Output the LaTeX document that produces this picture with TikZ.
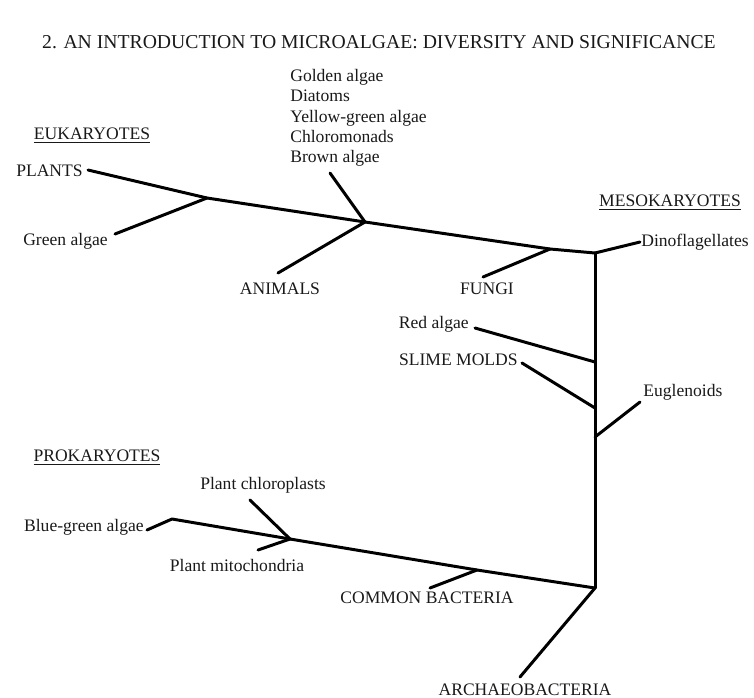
\documentclass[tikz,border=0pt]{standalone}
\usepackage{fontspec}
\setmainfont{Liberation Serif}
\usepackage{tikz}

\begin{document}
\begin{tikzpicture}[x=0.02cm, y=-0.02cm,
    branche/.style={line width=1.7pt, line cap=round, line join=round},
    lab/.style={inner sep=0pt, text=black!90, font=\fontsize{10}{11.6}\selectfont}]
	\useasboundingbox (0,0) rectangle (754,697);
	\node[lab, font=\fontsize{11.2}{13}\selectfont] (titre) at (379,42) {2. AN INTRODUCTION TO MICROALGAE: DIVERSITY AND SIGNIFICANCE};

	% eucaryotes : branche du haut
	\coordinate (pl) at (88,170);
	\coordinate (ja) at (207,198);
	\coordinate (ga) at (115,234);
	\coordinate (jb) at (365,222);
	\coordinate (an) at (278,273);
	\coordinate (br) at (330,173);
	\coordinate (jf) at (550,249);
	\coordinate (fu) at (483,277);
	\coordinate (top) at (595,253);
	\node[lab] (euk) at (92,136) {\underline{EUKARYOTES}};
	\node[lab, anchor=east] (plants) at (83,171) {PLANTS};
	\node[lab, anchor=east] (green) at (108,241) {Green algae};
	\node[lab] (animals) at (280,289) {ANIMALS};
	\node[lab, anchor=west, align=left] (golden) at (290,118)
		{Golden algae\\Diatoms\\Yellow-green algae\\Chloromonads\\Brown algae};
	\node[lab] (fungi) at (487,289) {FUNGI};
	\draw[branche] (pl) -- (ja) -- (jb) -- (jf) -- (top);
	\draw[branche] (ga) -- (ja);
	\draw[branche] (an) -- (jb) -- (br);
	\draw[branche] (fu) -- (jf);

	% mesocaryotes : tronc vertical
	\coordinate (di) at (640,242);
	\coordinate (jr) at (595,362);
	\coordinate (re) at (475,328);
	\coordinate (js) at (595,408);
	\coordinate (sm) at (522,363);
	\coordinate (je) at (595,437);
	\coordinate (eu) at (640,402);
	\coordinate (bot) at (595,588);
	\node[lab] (meso) at (670,203) {\underline{MESOKARYOTES}};
	\node[lab, anchor=west] (dino) at (641,242) {Dinoflagellates};
	\node[lab, anchor=east] (red) at (469,324) {Red algae};
	\node[lab, anchor=east] (slime) at (518,360) {SLIME MOLDS};
	\node[lab, anchor=west] (eugl) at (643,392) {Euglenoids};
	\draw[branche] (top) -- (bot);
	\draw[branche] (top) -- (di);
	\draw[branche] (re) -- (jr);
	\draw[branche] (sm) -- (js);
	\draw[branche] (je) -- (eu);

	% procaryotes : branche du bas
	\coordinate (bg) at (147,530);
	\coordinate (bk) at (172,519);
	\coordinate (jc) at (290,539);
	\coordinate (ch) at (250,500);
	\coordinate (mi) at (258,550);
	\coordinate (jcb) at (477,570);
	\coordinate (cb) at (430,588);
	\coordinate (ar) at (520,677);
	\node[lab] (prok) at (97,458) {\underline{PROKARYOTES}};
	\node[lab, anchor=east] (blue) at (144,527) {Blue-green algae};
	\node[lab] (chloro) at (263,485) {Plant chloroplasts};
	\node[lab] (mito) at (237,565) {Plant mitochondria};
	\node[lab] (common) at (427,598) {COMMON BACTERIA};
	\node[lab] (archae) at (525,690) {ARCHAEOBACTERIA};
	\draw[branche] (bg) -- (bk) -- (jc) -- (jcb) -- (bot);
	\draw[branche] (ch) -- (jc) -- (mi);
	\draw[branche] (cb) -- (jcb);
	\draw[branche] (bot) -- (ar);
\end{tikzpicture}
\end{document}
